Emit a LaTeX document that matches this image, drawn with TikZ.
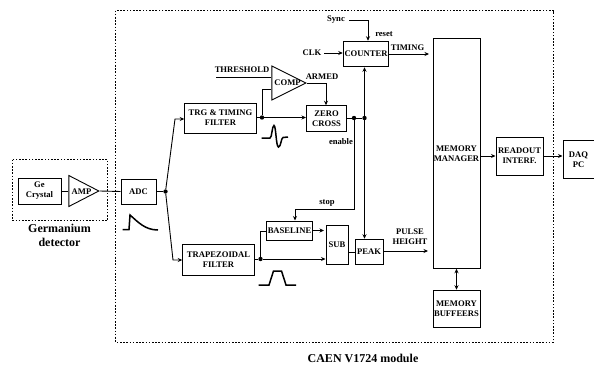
\documentclass[tikz,border=0pt]{standalone}
\usepackage{fontspec}
\setmainfont{Liberation Serif}
\usetikzlibrary{shapes.geometric, arrows.meta}
\tikzset{
  >={Stealth[length=4.5pt, width=4pt]},
  lbl/.style={font=\bfseries\fontsize{8.6}{10}\selectfont, align=center, inner sep=0pt},
  biglbl/.style={font=\bfseries\fontsize{12}{14}\selectfont, align=center, inner sep=0pt},
  wire/.style={line width=0.9pt},
  frame/.style={line width=0.8pt, dash pattern=on 1.6pt off 1.6pt},
  pulse/.style={line width=1.5pt},
  block/.style={draw, line width=1pt, lbl},
  amplifier/.style={draw, line width=0.9pt, isosceles triangle, isosceles triangle stretches, inner sep=0pt, anchor=apex},
  junction/.style={circle, fill=black, inner sep=0pt, minimum size=4.4pt}
}
\newcommand{\boxat}[6]{\node[block, minimum width=#3pt, minimum height=#4pt] (#5) at (#1, #2){#6};}
\begin{document}
\begin{tikzpicture}[x=1pt, y=-1pt]
      \useasboundingbox (0, 0) rectangle (594, 364);
      \draw[frame] (115.5, 10.5) rectangle (553.5, 342);
      \draw[frame] (12.5, 159.5) rectangle (107.5, 220.5);

      \boxat{39.5}{191}{43}{26}{crystal}{Ge\\Crystal}
      \node[amplifier, minimum width=31pt, minimum height=30pt] (amp) at (100, 191){};
      \node[lbl] (amplabel) at (81.5, 191.5){AMP};
      \boxat{138.5}{191.5}{35}{25}{adc}{ADC}
      \boxat{220.5}{118}{71.5}{30}{trg}{TRG \& TIMING\\FILTER}
      \boxat{218.5}{259.5}{71.5}{31}{trap}{TRAPEZOIDAL\\FILTER}
      \node[amplifier, minimum width=34pt, minimum height=34pt] (comp) at (307, 83){};
      \node[lbl] (complabel) at (287.5, 83){COMP};
      \boxat{326.5}{118.5}{40}{25.5}{zero}{ZERO\\CROSS}
      \boxat{366}{54}{45.5}{25.5}{counter}{COUNTER}
      \boxat{289.5}{230.5}{46}{19}{baseline}{BASELINE}
      \boxat{337}{244.5}{22}{39}{sub}{SUB}
      \boxat{369}{252}{28}{25.5}{peak}{PEAK}
      \boxat{456.5}{153.5}{47}{229.5}{memman}{MEMORY\\MANAGER}
      \boxat{456.5}{309}{47}{37.5}{membuf}{MEMORY\\BUFFEERS}
      \boxat{519.5}{156}{47}{38}{readout}{READOUT\\INTERF.}
      \boxat{578.5}{159.5}{31}{37.5}{daq}{DAQ\\PC}

      \node[junction] (adcdot) at (165.5, 191.5){};
      \node[junction] (trgdot) at (262, 117.5){};
      \node[junction] (endot) at (354, 118){};
      \node[junction] (cntdot) at (364.5, 118){};
      \node[junction] (trapdot) at (260.5, 259){};

      \node[lbl] (sync) at (336, 20){Sync};
      \node[lbl] (reset) at (384, 34.5){reset};
      \node[lbl] (clk) at (312, 53){CLK};
      \node[lbl] (threshold) at (242, 70){THRESHOLD};
      \node[lbl] (armed) at (322, 77){ARMED};
      \node[lbl] (timing) at (407.5, 47.5){TIMING};
      \node[lbl] (enable) at (341, 142){enable};
      \node[lbl] (stop) at (327, 202.5){stop};
      \node[lbl] (height) at (410, 237){PULSE\\HEIGHT};
      \node[biglbl] (germanium) at (59.5, 235){Germanium\\detector};
      \node[biglbl] (caen) at (363, 358.5){CAEN V1724 module};

      \coordinate (syncin) at (349, 20.5);
      \coordinate (syncturn) at (368, 20.5);
      \coordinate (clkin) at (324, 53);
      \coordinate (thrin) at (216, 77);
      \coordinate (trgbend) at (175, 119);
      \coordinate (trapbend) at (173, 260);
      \coordinate (armedturn) at (326, 83);
      \coordinate (stopturn) at (295, 209);
      \coordinate (fbturn) at (262, 89.5);
      \coordinate (blturn) at (260.5, 231);
      \coordinate (timingout) at (429, 54);
      \coordinate (heightout) at (428, 251);

      \draw[wire] (crystal.east) -- (crystal.east -| amp.lower side);
      \draw[wire] (amp.apex) -- (adc.west);
      \draw[wire] (adc.east) -- (adcdot);
      \draw[wire, ->] (adcdot) -- (trgbend) -- (trgbend -| trg.west);
      \draw[wire, ->] (adcdot) -- (trapbend) -- (trapbend -| trap.west);
      \draw[wire] (thrin) -- (thrin -| comp.lower side);
      \draw[wire] (trgdot) -- (fbturn) -- (fbturn -| comp.lower side);
      \draw[wire] (trg.east |- trgdot) -- (trgdot);
      \draw[wire, ->] (trgdot) -- (trgdot -| zero.west);
      \draw[wire, ->] (comp.apex) -- (armedturn) -- (armedturn |- zero.north);
      \draw[wire] (zero.east |- endot) -- (endot);
      \draw[wire] (endot) -- (cntdot);
      \draw[wire, ->] (cntdot) -- (cntdot |- counter.south);
      \draw[wire, ->] (cntdot) -- (cntdot |- peak.north);
      \draw[wire, ->] (endot) -- (endot |- stopturn) -- (stopturn) -- (stopturn |- baseline.north);
      \draw[wire, ->] (syncin) -- (syncturn) -- (syncturn |- counter.north);
      \draw[wire, ->] (clkin) -- (clkin -| counter.west);
      \draw[wire, ->] (counter.east) -- (timingout);
      \draw[wire] (trap.east |- trapdot) -- (trapdot);
      \draw[wire, ->] (trapdot) -- (trapdot -| sub.west);
      \draw[wire] (trapdot) -- (blturn) -- (blturn -| baseline.west);
      \draw[wire, ->] (baseline.east) -- +(11, 0);
      \draw[wire] (sub.east |- peak.west) -- (peak.west);
      \draw[wire, ->] (peak.east |- heightout) -- (heightout);
      \draw[wire, ->] (memman.east |- readout.west) -- (readout.west);
      \draw[wire, ->] (readout.east) -- (readout.east -| daq.west);
      \draw[wire, <->] (memman.south) -- (membuf.north);

      \draw[pulse] (122.5, 229.5) -- (129, 229.5) -- (130, 215) .. controls (138, 222) and (145, 230) .. (158, 230);
      \draw[pulse] (261.5, 138) -- (270, 138) .. controls (272, 138) and (272, 125.5) .. (274, 125.5) .. controls (276, 125.5) and (276, 147) .. (278.5, 147) .. controls (281, 147) and (281, 138) .. (283, 137.5) -- (288, 137);
      \draw[pulse] (258.5, 285) -- (269, 285) -- (273.5, 271) -- (281.5, 271) -- (286, 285) -- (296, 285);
    \end{tikzpicture}
\end{document}
